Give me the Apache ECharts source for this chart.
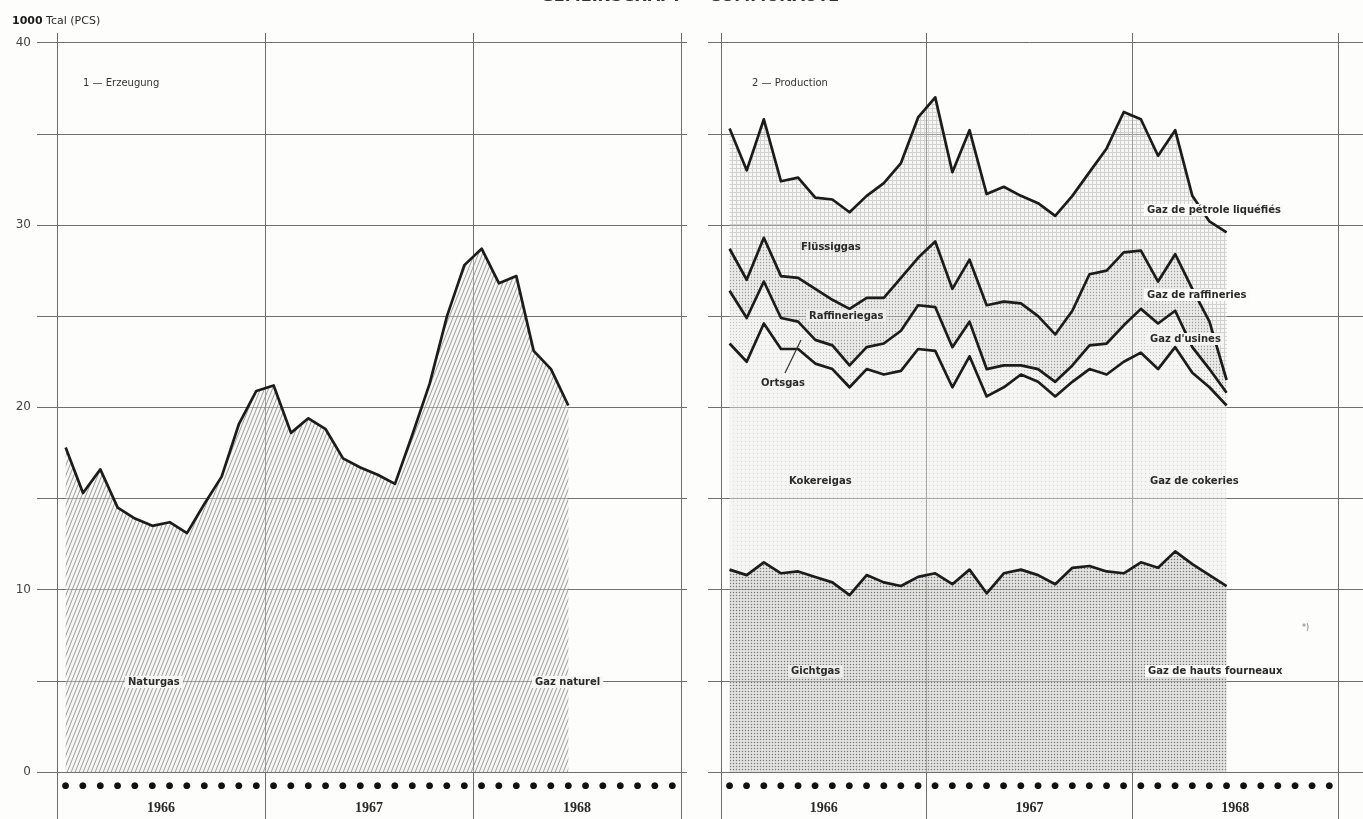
<!DOCTYPE html>
<html>
<head>
<meta charset="utf-8">
<script src="https://cdn.jsdelivr.net/npm/echarts@6/dist/echarts.min.js"></script>
<style>
html,body{margin:0;padding:0;background:#fdfdfb;}
#c{width:1363px;height:819px;}
</style>
</head>
<body>
<div id="c"></div>
<script>
// ---------- data ----------
const months = [
  '1966-01','1966-02','1966-03','1966-04','1966-05','1966-06','1966-07','1966-08','1966-09','1966-10','1966-11','1966-12',
  '1967-01','1967-02','1967-03','1967-04','1967-05','1967-06','1967-07','1967-08','1967-09','1967-10','1967-11','1967-12',
  '1968-01','1968-02','1968-03','1968-04','1968-05','1968-06','1968-07','1968-08','1968-09','1968-10','1968-11','1968-12'
];
const years = ['1966', '1967', '1968'];

// Panel 1 — Erzeugung : Naturgas / Gaz naturel (1000 Tcal PCS)
const naturgas = [17.8, 15.3, 16.6, 14.5, 13.9, 13.5, 13.7, 13.1, 14.7, 16.2, 19.1, 20.9,
                  21.2, 18.6, 19.4, 18.8, 17.2, 16.7, 16.3, 15.8, 18.5, 21.3, 25.0, 27.8,
                  28.7, 26.8, 27.2, 23.1, 22.1, 20.1];

// Panel 2 — Production (stacked components)
const gichtgas = [11.1, 10.8, 11.5, 10.9, 11.0, 10.7, 10.4, 9.7, 10.8, 10.4, 10.2, 10.7,
                  10.9, 10.3, 11.1, 9.8, 10.9, 11.1, 10.8, 10.3, 11.2, 11.3, 11.0, 10.9,
                  11.5, 11.2, 12.1, 11.4, 10.8, 10.2];
const kokereigas = [12.4, 11.7, 13.1, 12.3, 12.2, 11.7, 11.7, 11.4, 11.3, 11.4, 11.8, 12.5,
                    12.2, 10.8, 11.7, 10.8, 10.2, 10.7, 10.6, 10.3, 10.2, 10.8, 10.8, 11.6,
                    11.5, 10.9, 11.2, 10.5, 10.3, 9.9];
const ortsgas = [2.9, 2.4, 2.3, 1.7, 1.5, 1.3, 1.3, 1.2, 1.2, 1.7, 2.2, 2.4,
                 2.4, 2.2, 1.9, 1.5, 1.2, 0.5, 0.7, 0.8, 0.9, 1.3, 1.7, 2.0,
                 2.4, 2.5, 2.0, 1.4, 1.0, 0.7];
const raffineriegas = [2.3, 2.1, 2.4, 2.3, 2.4, 2.8, 2.5, 3.1, 2.7, 2.5, 2.9, 2.6,
                       3.6, 3.2, 3.4, 3.5, 3.5, 3.4, 2.9, 2.6, 3.0, 3.9, 4.0, 4.0,
                       3.2, 2.3, 3.1, 3.2, 2.6, 0.7];
const fluessiggas = [6.6, 6.0, 6.5, 5.2, 5.5, 5.0, 5.5, 5.3, 5.6, 6.3, 6.3, 7.7,
                     7.9, 6.4, 7.1, 6.1, 6.3, 5.9, 6.2, 6.5, 6.3, 5.6, 6.7, 7.7,
                     7.2, 6.9, 6.8, 5.1, 5.5, 8.1];

// ---------- patterns ----------
function makeCanvas(w, h, draw) {
  const c = document.createElement('canvas');
  c.width = w; c.height = h;
  draw(c.getContext('2d'), w, h);
  return c;
}
function pattern(canvas) { return { image: canvas, repeat: 'repeat' }; }

const hatch = makeCanvas(4, 10, (g, w, h) => {
  g.fillStyle = 'rgba(238,238,236,0.4)'; g.fillRect(0, 0, w, h);
  g.strokeStyle = 'rgba(125,125,125,0.75)'; g.lineWidth = 1.0;
  [-w, 0, w].forEach(x0 => { g.beginPath(); g.moveTo(x0, h); g.lineTo(x0 + w, 0); g.stroke(); });
});
const dotsDark = makeCanvas(3, 3, (g, w, h) => {
  g.fillStyle = 'rgba(205,205,205,0.55)'; g.fillRect(0, 0, w, h);
  g.fillStyle = 'rgba(110,110,110,0.9)'; g.beginPath(); g.arc(1.5, 1.5, 0.75, 0, Math.PI * 2); g.fill();
});
const dotsSparse = makeCanvas(4, 4, (g, w, h) => {
  g.fillStyle = 'rgba(236,236,232,0.45)'; g.fillRect(0, 0, w, h);
  g.fillStyle = 'rgba(150,150,150,0.3)'; g.fillRect(1, 1, 1, 1);
});
const dotsLight = makeCanvas(3, 3, (g, w, h) => {
  g.fillStyle = 'rgba(228,228,226,0.45)'; g.fillRect(0, 0, w, h);
  g.fillStyle = 'rgba(140,140,140,0.45)'; g.fillRect(1, 1, 1, 1);
});
const dotsMid = makeCanvas(3, 3, (g, w, h) => {
  g.fillStyle = 'rgba(215,215,215,0.5)'; g.fillRect(0, 0, w, h);
  g.fillStyle = 'rgba(130,130,130,0.75)'; g.beginPath(); g.arc(1.5, 1.5, 0.65, 0, Math.PI * 2); g.fill();
});
const gridPat = makeCanvas(4, 4, (g, w, h) => {
  g.fillStyle = 'rgba(236,236,236,0.35)'; g.fillRect(0, 0, w, h);
  g.fillStyle = 'rgba(165,165,165,0.45)'; g.fillRect(0, 0, w, 1); g.fillRect(0, 1, 1, h - 1);
});

// ---------- layout ----------
const TOP = 42.7, BOT = 772;
const panels = [
  { left: 57, width: 624, tickL: 20, tickR: 6, labels: true },
  { left: 721, width: 617, tickL: 13, tickR: 25, labels: false }
];
const GRID_COLOR = '#6f6f6f';
const grid = [], xAxis = [], yAxis = [];
const idx = [];
panels.forEach(p => {
  const g0 = grid.length;
  grid.push({ left: p.left, width: p.width, top: TOP, height: BOT - TOP });
  grid.push({ left: p.left, width: p.width, top: BOT, height: 819 - BOT });
  grid.push({ left: p.left, width: p.width, top: 33, height: TOP - 33 });
  const xm = xAxis.length;
  // months (dots)
  xAxis.push({ type: 'category', gridIndex: g0, data: months, boundaryGap: true, position: 'bottom', offset: 0,
    axisLine: { show: false }, axisTick: { show: false }, splitLine: { show: false },
    axisLabel: { interval: 0, formatter: () => '●', fontSize: 9, color: '#111', margin: 9, fontFamily: 'DejaVu Sans' } });
  // year divider lines
  const vline = gi => ({ type: 'value', gridIndex: gi, min: 0, max: 36, interval: 12, position: 'bottom',
    axisLine: { show: false }, axisTick: { show: false }, axisLabel: { show: false },
    splitLine: { show: true, lineStyle: { color: GRID_COLOR, width: 1 } } });
  xAxis.push(vline(g0));
  // years labels
  xAxis.push({ type: 'category', gridIndex: g0, data: years, boundaryGap: true, position: 'bottom', offset: 0,
    axisLine: { show: false }, axisTick: { show: false }, splitLine: { show: false },
    axisLabel: { interval: 0, margin: 29, fontSize: 14, fontWeight: 'bold', color: '#2a2a2a', fontFamily: 'Liberation Serif' } });
  xAxis.push(vline(g0 + 1));
  xAxis.push(vline(g0 + 2));
  const ym = yAxis.length;
  yAxis.push({ type: 'value', gridIndex: g0, min: 0, max: 40, interval: 5, position: 'left',
    axisLine: { show: false },
    axisTick: { show: true, length: p.tickL, lineStyle: { color: GRID_COLOR, width: 1 } },
    axisLabel: { show: p.labels, margin: 26, fontSize: 12, color: '#444', fontFamily: 'DejaVu Sans',
      formatter: v => (v % 10 === 0 ? String(v) : '') },
    splitLine: { show: true, lineStyle: { color: GRID_COLOR, width: 1 } } });
  yAxis.push({ type: 'value', gridIndex: g0, min: 0, max: 40, interval: 5, position: 'right',
    axisLine: { show: false }, axisLabel: { show: false }, splitLine: { show: false },
    axisTick: { show: true, length: p.tickR, lineStyle: { color: GRID_COLOR, width: 1 } } });
  const hid = gi => ({ type: 'value', gridIndex: gi, show: false, min: 0, max: 1 });
  yAxis.push(hid(g0 + 1));
  yAxis.push(hid(g0 + 2));
  idx.push({ x: xm, y: ym });
});

const lineStyle = { color: '#1c1c1c', width: 2.7, join: 'round' };
function stacked(name, data, fill) {
  return { name, type: 'line', stack: 'prod', xAxisIndex: idx[1].x, yAxisIndex: idx[1].y, data,
    symbol: 'none', lineStyle, areaStyle: { color: pattern(fill), opacity: 1 } };
}
const series = [
  { name: 'Naturgas', type: 'line', xAxisIndex: idx[0].x, yAxisIndex: idx[0].y, data: naturgas,
    symbol: 'none', lineStyle, areaStyle: { color: pattern(hatch), opacity: 1 } },
  stacked('Gichtgas', gichtgas, dotsDark),
  stacked('Kokereigas', kokereigas, dotsSparse),
  stacked('Ortsgas', ortsgas, dotsLight),
  stacked('Raffineriegas', raffineriegas, dotsMid),
  stacked('Flüssiggas', fluessiggas, gridPat)
];

// ---------- annotations ----------
const FONT = 'bold 10px "DejaVu Sans"';
function label(text, x, y, bg) {
  return { type: 'text', x, y, z: 100,
    style: { text, font: FONT, fill: '#2a2a2a', align: 'left', verticalAlign: 'middle',
      backgroundColor: bg || 'transparent', padding: [1, 3, 1, 3] } };
}
const graphic = [
  { type: 'text', x: 690, y: -3, z: 100,
    style: { text: 'GEMEINSCHAFT — COMMUNAUTÉ', font: 'bold 16px "DejaVu Sans"', fill: '#333',
      align: 'center', verticalAlign: 'middle' } },
  { type: 'text', x: 12, y: 21, z: 100,
    style: { text: '{b|1000} Tcal (PCS)', font: '11px "DejaVu Sans"', fill: '#2a2a2a', verticalAlign: 'middle',
      rich: { b: { font: 'bold 11px "DejaVu Sans"', fill: '#1a1a1a' } } } },
  { type: 'text', x: 83, y: 83, z: 100,
    style: { text: '1 — Erzeugung', font: '10px "DejaVu Sans"', fill: '#333', verticalAlign: 'middle' } },
  label('Naturgas', 125, 682, '#f6f6f4'),
  label('Gaz naturel', 532, 682, '#f6f6f4'),
  { type: 'text', x: 752, y: 83, z: 100,
    style: { text: '2 — Production', font: '10px "DejaVu Sans"', fill: '#333', verticalAlign: 'middle' } },
  label('Flüssiggas', 798, 247),
  label('Gaz de pétrole liquéfiés', 1144, 210, '#fbfbf9'),
  label('Raffineriegas', 806, 316, '#ededeb'),
  label('Gaz de raffineries', 1144, 295, '#fbfbf9'),
  label("Gaz d'usines", 1147, 339, '#f3f3f1'),
  label('Ortsgas', 758, 383),
  { type: 'line', z: 100, shape: { x1: 785, y1: 373, x2: 801, y2: 340 },
    style: { stroke: '#333', lineWidth: 1.2 } },
  label('Kokereigas', 786, 481),
  label('Gaz de cokeries', 1147, 481),
  label('Gichtgas', 788, 671, '#ececea'),
  label('Gaz de hauts fourneaux', 1145, 671, '#fbfbf9'),
  { type: 'text', x: 1302, y: 628, z: 100,
    style: { text: '*)', font: '8px "DejaVu Sans"', fill: '#777', verticalAlign: 'middle' } }
];

const chart = echarts.init(document.getElementById('c'), null, { renderer: 'canvas' });
chart.setOption({
  backgroundColor: '#fdfdfb',
  animation: false,
  grid, xAxis, yAxis, series, graphic
});
</script>
</body>
</html>
